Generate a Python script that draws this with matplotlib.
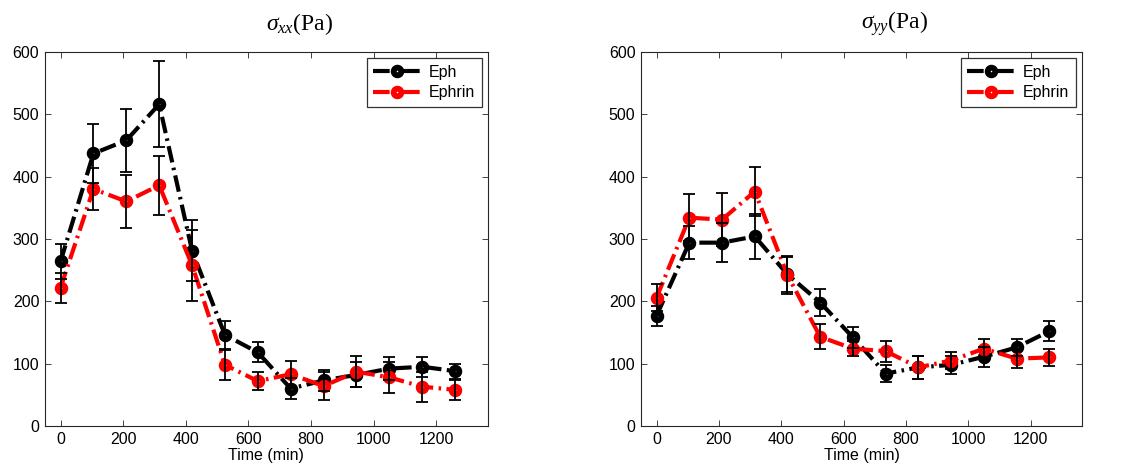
import matplotlib.pyplot as plt
import numpy as np

plt.rcParams["font.family"] = ["Liberation Sans", "DejaVu Sans"]
plt.rcParams["mathtext.fontset"] = "custom"
plt.rcParams["mathtext.it"] = "Liberation Serif:italic"
plt.rcParams["mathtext.rm"] = "Liberation Serif"

time_min = [0, 105, 210, 315, 420, 525, 630, 735, 840, 945, 1050, 1155, 1260]

# sigma_xx
xx_eph = [264, 437, 458, 516, 281, 146, 118, 60, 73, 82, 92, 95, 88]
xx_eph_err = [28, 48, 50, 69, 49, 22, 16, 17, 17, 20, 18, 16, 12]
xx_ephrin = [222, 380, 360, 386, 258, 98, 72, 83, 64, 87, 78, 63, 58]
xx_ephrin_err = [24, 34, 42, 47, 57, 24, 15, 22, 22, 25, 25, 24, 16]

# sigma_yy
yy_eph = [177, 294, 294, 304, 243, 198, 142, 84, 94, 98, 111, 126, 152]
yy_eph_err = [16, 26, 31, 36, 28, 21, 17, 14, 18, 14, 16, 13, 16]
yy_ephrin = [206, 334, 331, 376, 242, 143, 124, 120, 94, 105, 124, 108, 110]
yy_ephrin_err = [21, 38, 43, 39, 30, 20, 12, 17, 18, 14, 15, 15, 14]

titles = [r"$\sigma_{xx}$(Pa)", r"$\sigma_{yy}$(Pa)"]
panels = [
    (xx_eph, xx_eph_err, xx_ephrin, xx_ephrin_err),
    (yy_eph, yy_eph_err, yy_ephrin, yy_ephrin_err),
]

fig = plt.figure(figsize=(11.23, 4.73), dpi=100)
axes = [fig.add_axes([0.040, 0.0994, 0.3945, 0.791]),
        fig.add_axes([0.5708, 0.0994, 0.3927, 0.791])]

dash = (4, 1.3, 0.6, 1.3)

for ax, title, (eph, eph_err, ephrin, ephrin_err) in zip(axes, titles, panels):
    for vals, errs, color, label in [(eph, eph_err, "black", "Eph"),
                                     (ephrin, ephrin_err, "red", "Ephrin")]:
        ax.errorbar(time_min, vals, yerr=errs, fmt="none", ecolor="black",
                    elinewidth=1.3, capsize=4, capthick=1.3, zorder=3)
        line, = ax.plot(time_min, vals, color=color, lw=3.0, marker="o", ms=5.5,
                        mfc="white", mec=color, mew=4.2, label=label, zorder=2)
        line.set_dashes(dash)
    ax.set_xlim(-50, 1365)
    ax.set_ylim(0, 600)
    ax.set_xticks([0, 200, 400, 600, 800, 1000, 1200])
    ax.set_yticks([0, 100, 200, 300, 400, 500, 600])
    ax.tick_params(direction="in", top=True, right=True, labelsize=11.5,
                   length=4, width=0.6, colors="#262626", labelcolor="black", pad=4)
    for s in ax.spines.values():
        s.set_linewidth(0.8)
        s.set_color("#262626")
    ax.set_xlabel("Time (min)", fontsize=11.5, labelpad=1)
    ax.text(0.575, 1.075, title, transform=ax.transAxes, ha="center", va="center",
            fontsize=17, family="Liberation Serif")
    leg = ax.legend(loc="upper right", fontsize=11.5, frameon=True, fancybox=False,
                    edgecolor="black", handlelength=3.0, borderaxespad=0.4,
                    handletextpad=0.5, borderpad=0.4, labelspacing=0.35)
    leg.get_frame().set_linewidth(0.9)

fig.savefig("out.png", dpi=100)
